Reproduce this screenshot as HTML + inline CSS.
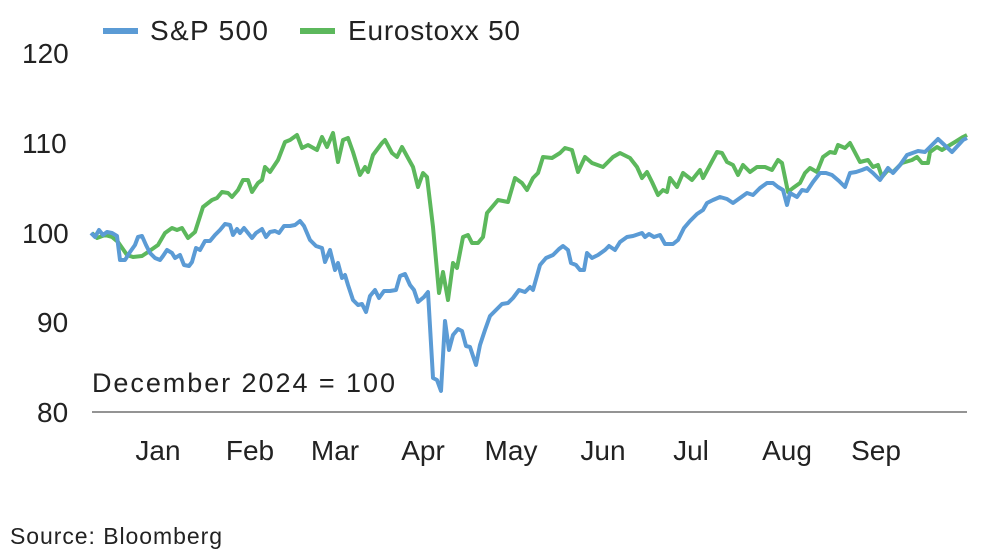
<!DOCTYPE html>
<html><head><style>
body{margin:0;background:#fff;}
svg{display:block;font-family:"Liberation Sans",sans-serif;}
</style></head><body>
<svg width="982" height="555" viewBox="0 0 982 555">
<rect width="982" height="555" fill="#fff"/>
<line x1="103" y1="31" x2="138" y2="31" stroke="#5b9bd5" stroke-width="6"/>
<text x="150" y="40" font-size="28" fill="#222" textLength="118">S&amp;P 500</text>
<line x1="300" y1="31" x2="335" y2="31" stroke="#5cb85c" stroke-width="6"/>
<text x="348" y="40" font-size="28" fill="#222" textLength="172">Eurostoxx 50</text>
<g font-size="28" fill="#222" text-anchor="start">
<text x="22" y="63">120</text><text x="22" y="153">110</text><text x="22" y="243">100</text>
<text x="37" y="332">90</text><text x="37" y="422">80</text></g>
<line x1="92" y1="412" x2="967" y2="412" stroke="#555" stroke-width="1.2"/>
<g font-size="28" fill="#222" text-anchor="middle">
<text x="158" y="460">Jan</text><text x="250" y="460">Feb</text><text x="335" y="460">Mar</text>
<text x="423" y="460">Apr</text><text x="511" y="460">May</text><text x="603" y="460">Jun</text>
<text x="691" y="460">Jul</text><text x="787" y="460">Aug</text><text x="876" y="460">Sep</text></g>
<text x="92" y="392" font-size="27" fill="#222" textLength="303">December 2024 = 100</text>
<text x="10" y="544" font-size="23" fill="#222" textLength="212">Source: Bloomberg</text>
<polyline fill="none" stroke="#5cb85c" stroke-width="4" stroke-linejoin="round" points="92,233 97,238 105,235 112,237 118,242 127,255 133,257 142,256 148,252 158,245 165,233 172,228 177,230 182,228 188,238 195,232 203,207 212,200 217,198 222,192 228,193 232,197 238,190 243,180 248,180 252,192 258,183 262,180 265,167 270,172 278,160 285,142 290,140 297,135 302,148 308,145 317,150 322,137 327,147 333,133 338,162 343,140 348,138 353,152 360,175 365,167 368,172 373,155 382,143 385,140 392,153 397,157 402,147 408,158 413,167 418,187 423,173 427,177 433,227 439,293 443,272 448,300 453,263 457,268 463,237 468,235 472,243 478,243 483,237 487,213 498,200 508,202 515,178 522,183 527,190 533,178 538,173 543,157 552,158 560,153 565,148 572,150 578,172 585,157 592,163 603,167 613,157 620,153 630,158 637,167 642,178 647,172 652,182 658,195 663,190 667,192 670,178 677,187 683,173 692,180 700,170 703,178 710,165 717,152 722,153 727,162 733,165 738,175 743,165 750,172 757,167 765,167 772,170 778,160 782,163 788,192 793,188 800,183 805,173 810,168 817,172 823,157 830,152 835,153 838,145 845,148 850,143 860,162 868,160 873,167 878,165 882,177 888,170 893,172 902,163 912,160 917,157 922,163 928,163 930,152 937,147 942,150 950,145 955,142 963,137 967,135"/>
<polyline fill="none" stroke="#5b9bd5" stroke-width="4" stroke-linejoin="round" points="91,233 95,237 99,230 103,235 107,232 112,233 117,236 120,260 125,260 130,252 135,245 138,237 142,236 146,245 150,253 155,258 160,260 163,256 167,250 172,253 175,258 180,255 184,265 189,266 192,262 196,248 200,250 205,241 210,241 215,235 220,230 225,224 230,225 233,235 237,229 240,233 244,228 248,233 252,238 256,233 262,229 266,237 270,232 275,231 279,233 284,226 290,226 295,225 300,221 304,226 310,240 316,246 322,248 325,262 330,250 335,270 338,263 342,278 345,275 348,285 353,300 358,305 362,304 366,312 370,296 375,290 379,298 384,291 390,291 396,290 400,276 405,274 410,285 414,290 418,302 424,297 428,292 433,378 437,380 441,391 445,321 449,350 453,335 458,329 462,331 466,346 470,347 476,365 480,345 485,330 490,316 496,310 502,304 508,303 513,298 519,290 525,292 530,287 533,290 540,265 546,258 553,255 559,249 563,246 568,250 571,263 576,265 580,270 584,270 587,253 592,258 598,255 605,250 609,246 615,250 620,242 627,237 633,236 636,235 642,233 645,237 649,234 654,237 660,235 665,244 673,244 678,240 684,228 690,221 697,214 703,210 707,203 713,200 720,197 727,199 733,203 740,198 747,193 753,195 760,188 767,183 773,183 778,187 783,190 787,205 790,193 797,197 802,190 807,191 813,182 820,173 826,173 832,175 839,181 845,187 850,173 856,172 862,170 867,168 873,173 880,180 888,168 893,173 900,165 907,155 918,151 925,152 938,139 952,152 963,140 967,138"/>
</svg>
</body></html>
